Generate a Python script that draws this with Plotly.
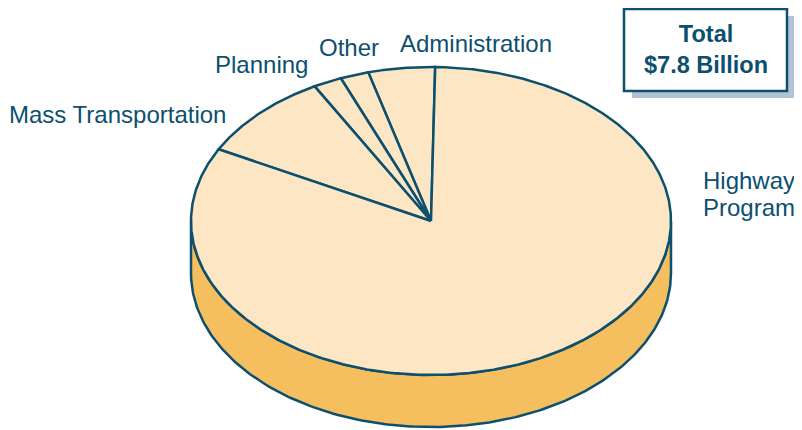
import numpy as np
import plotly.graph_objects as go

# spending by program, $ billions
labels = ["Administration", "Other", "Planning", "Mass Transportation", "Highway Program"]
values = [0.35, 0.15, 0.15, 0.72, 6.43]
total_lines = ["Total", "$7.8 Billion"]

INK = "#0d4f6e"
TOP = "#fce6c4"
SIDE = "#f5be5e"
SHADOW = "#b3c3d3"
FONT = "Liberation Sans, Arial, sans-serif"

W, H = 802, 430
PAD = 8                    # page body margin, compensated in the axis ranges
cx, cy = 431, 221          # centre of the top face
rx, ry = 240, 154          # ellipse radii
depth = 52                 # cylinder thickness
start_deg = 89             # first slice starts here, going anticlockwise


def ell(t, dy=0):
    return cx + rx * np.cos(t), cy - ry * np.sin(t) + dy


fig = go.Figure()

# visible front wall of the pie
t_front = np.linspace(np.pi, 2 * np.pi, 200)
xt, yt = ell(t_front)
xb, yb = ell(t_front[::-1], depth)
fig.add_trace(go.Scatter(
    x=np.concatenate([xt, xb, xt[:1]]), y=np.concatenate([yt, yb, yt[:1]]),
    mode="lines", fill="toself", fillcolor=SIDE,
    line=dict(color=INK, width=2.5), hoverinfo="skip", showlegend=False
))

# top face slices
fracs = np.array(values) / sum(values)
edges = np.radians(start_deg + 360 * np.concatenate([[0], np.cumsum(fracs)]))
for lab, val, a0, a1 in zip(labels, values, edges[:-1], edges[1:]):
    t = np.linspace(a0, a1, max(4, int(np.degrees(a1 - a0) * 2)))
    ax_, ay_ = ell(t)
    fig.add_trace(go.Scatter(
        x=np.concatenate([[cx], ax_, [cx]]), y=np.concatenate([[cy], ay_, [cy]]),
        mode="lines", fill="toself", fillcolor=TOP,
        line=dict(color=INK, width=2.5), showlegend=False, name=lab,
        hoveron="fills", hovertemplate=f"{lab}<br>${val:.2f} billion<extra></extra>"
    ))

# slice labels: (x centre, y of first line centre, words per line)
label_pos = {
    "Mass Transportation": (117, 114, 2),
    "Planning": (261, 64, 1),
    "Other": (349, 47, 1),
    "Administration": (476, 43, 1),
    "Highway Program": (749, 180, 1),
}
for lab in labels:
    x, y, per = label_pos[lab]
    words = lab.split(" ")
    rows = [" ".join(words[i:i + per]) for i in range(0, len(words), per)]
    for i, row in enumerate(rows):
        fig.add_annotation(x=x, y=y + 27 * i, text=row, showarrow=False,
                           xanchor="center", yanchor="middle",
                           font=dict(family=FONT, size=24, color=INK))

# total box with drop shadow
fig.add_shape(type="rect", x0=632, y0=16, x1=795, y1=98, fillcolor=SHADOW, line=dict(width=0), layer="below")
fig.add_shape(type="rect", x0=624, y0=9, x1=787, y1=91, fillcolor="white", line=dict(color=INK, width=2.5))
fig.add_annotation(x=706, y=49, text="<br>".join(f"<b>{s}</b>" for s in total_lines),
                   showarrow=False, xanchor="center", yanchor="middle", align="center",
                   font=dict(family=FONT, size=23.5, color=INK))

fig.update_layout(
    width=W, height=H,
    margin=dict(l=0, r=0, t=0, b=0),
    paper_bgcolor="white", plot_bgcolor="white",
    xaxis=dict(range=[PAD, W + PAD], visible=False, fixedrange=True),
    yaxis=dict(range=[H + PAD, PAD], visible=False, fixedrange=True),
    showlegend=False,
)
fig.write_html("out.html")
